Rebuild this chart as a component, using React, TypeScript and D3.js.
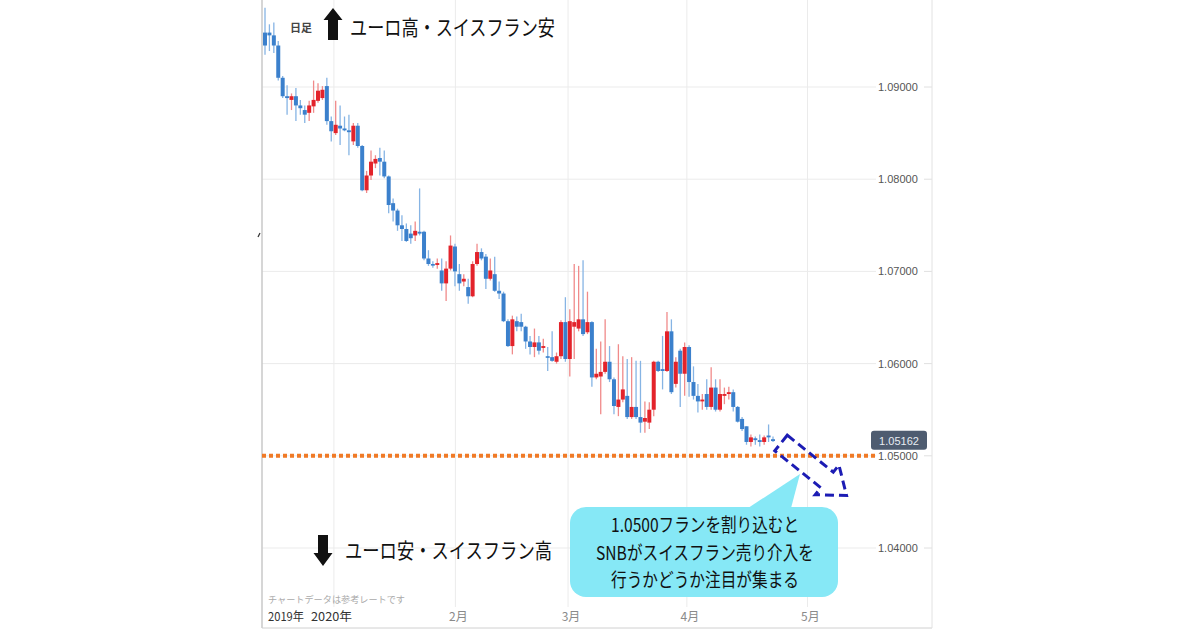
import React from "react";
import * as d3 from "d3";

// EUR/CHF daily candles (Dec 2019 - Apr 2020)
const opens = [
  1.0959, 1.0959, 1.0956, 1.0945, 1.0910, 1.0890, 1.0886, 1.0890, 1.0880, 1.0875,
  1.0872, 1.0879, 1.0885, 1.0888, 1.0901, 1.0863, 1.0850, 1.0858, 1.0855, 1.0853,
  1.0841, 1.0858, 1.0836, 1.0788, 1.0804, 1.0817, 1.0823, 1.0819, 1.0803, 1.0774,
  1.0766, 1.0750, 1.0746, 1.0741, 1.0739, 1.0743, 1.0743, 1.0714, 1.0708, 1.0707,
  1.0701, 1.0687, 1.0703, 1.0727, 1.0697, 1.0689, 1.0683, 1.0673, 1.0708, 1.0721,
  1.0716, 1.0692, 1.0697, 1.0679, 1.0676, 1.0646, 1.0619, 1.0646, 1.0645, 1.0640,
  1.0624, 1.0618, 1.0623, 1.0617, 1.0608, 1.0607, 1.0602, 1.0608, 1.0645, 1.0605,
  1.0640, 1.0638, 1.0648, 1.0634, 1.0645, 1.0585, 1.0586, 1.0591, 1.0602, 1.0583,
  1.0553, 1.0561, 1.0565, 1.0542, 1.0553, 1.0542, 1.0537, 1.0536, 1.0550, 1.0602,
  1.0594, 1.0592, 1.0635, 1.0578, 1.0614, 1.0589, 1.0618, 1.0580, 1.0565, 1.0559,
  1.0567, 1.0553, 1.0574, 1.0550, 1.0565, 1.0567, 1.0569, 1.0553, 1.0540, 1.0532,
  1.0515, 1.0519, 1.0517, 1.0515, 1.0522, 1.0518,
];
const highs = [
  1.0986, 1.0968, 1.0970, 1.0950, 1.0912, 1.0902, 1.0893, 1.0899, 1.0886, 1.0880,
  1.0885, 1.0907, 1.0904, 1.0901, 1.0910, 1.0868, 1.0885, 1.0880, 1.0868, 1.0870,
  1.0861, 1.0861, 1.0837, 1.0809, 1.0831, 1.0826, 1.0834, 1.0831, 1.0804, 1.0779,
  1.0768, 1.0761, 1.0752, 1.0750, 1.0754, 1.0790, 1.0744, 1.0723, 1.0711, 1.0714,
  1.0714, 1.0711, 1.0739, 1.0730, 1.0708, 1.0697, 1.0692, 1.0711, 1.0730, 1.0725,
  1.0719, 1.0714, 1.0716, 1.0689, 1.0678, 1.0648, 1.0652, 1.0651, 1.0654, 1.0641,
  1.0630, 1.0638, 1.0630, 1.0627, 1.0618, 1.0635, 1.0612, 1.0647, 1.0672, 1.0659,
  1.0708, 1.0706, 1.0712, 1.0678, 1.0646, 1.0616, 1.0624, 1.0648, 1.0619, 1.0585,
  1.0621, 1.0608, 1.0605, 1.0607, 1.0603, 1.0603, 1.0559, 1.0558, 1.0603, 1.0603,
  1.0630, 1.0656, 1.0648, 1.0607, 1.0616, 1.0623, 1.0620, 1.0597, 1.0578, 1.0567,
  1.0583, 1.0596, 1.0583, 1.0583, 1.0574, 1.0575, 1.0572, 1.0554, 1.0542, 1.0532,
  1.0523, 1.0521, 1.0523, 1.0522, 1.0534, 1.0521,
];
const lows = [
  1.0935, 1.0939, 1.0937, 1.0907, 1.0888, 1.0870, 1.0875, 1.0863, 1.0870, 1.0861,
  1.0863, 1.0872, 1.0883, 1.0886, 1.0859, 1.0841, 1.0848, 1.0837, 1.0852, 1.0826,
  1.0837, 1.0834, 1.0787, 1.0785, 1.0799, 1.0812, 1.0804, 1.0801, 1.0763, 1.0754,
  1.0744, 1.0733, 1.0732, 1.0730, 1.0733, 1.0739, 1.0712, 1.0706, 1.0704, 1.0703,
  1.0679, 1.0668, 1.0701, 1.0684, 1.0679, 1.0684, 1.0665, 1.0672, 1.0706, 1.0712,
  1.0681, 1.0690, 1.0678, 1.0670, 1.0645, 1.0618, 1.0610, 1.0635, 1.0635, 1.0616,
  1.0610, 1.0607, 1.0610, 1.0612, 1.0592, 1.0602, 1.0600, 1.0605, 1.0602, 1.0586,
  1.0605, 1.0635, 1.0630, 1.0632, 1.0575, 1.0583, 1.0545, 1.0589, 1.0580, 1.0545,
  1.0543, 1.0558, 1.0540, 1.0540, 1.0540, 1.0525, 1.0525, 1.0529, 1.0543, 1.0591,
  1.0572, 1.0591, 1.0567, 1.0574, 1.0553, 1.0565, 1.0564, 1.0561, 1.0547, 1.0550,
  1.0550, 1.0550, 1.0548, 1.0548, 1.0556, 1.0561, 1.0548, 1.0536, 1.0527, 1.0512,
  1.0510, 1.0512, 1.0510, 1.0512, 1.0515, 1.0515,
];
const closes = [
  1.0945, 1.0956, 1.0945, 1.0910, 1.0890, 1.0888, 1.0890, 1.0880, 1.0877, 1.0870,
  1.0880, 1.0886, 1.0896, 1.0897, 1.0863, 1.0852, 1.0859, 1.0855, 1.0853, 1.0851,
  1.0858, 1.0836, 1.0788, 1.0804, 1.0819, 1.0822, 1.0819, 1.0803, 1.0772, 1.0766,
  1.0750, 1.0746, 1.0733, 1.0736, 1.0744, 1.0741, 1.0714, 1.0708, 1.0707, 1.0709,
  1.0687, 1.0703, 1.0728, 1.0700, 1.0687, 1.0692, 1.0673, 1.0708, 1.0721, 1.0714,
  1.0692, 1.0701, 1.0679, 1.0676, 1.0646, 1.0619, 1.0648, 1.0640, 1.0640, 1.0624,
  1.0618, 1.0623, 1.0614, 1.0619, 1.0607, 1.0603, 1.0608, 1.0645, 1.0605, 1.0646,
  1.0645, 1.0648, 1.0632, 1.0645, 1.0585, 1.0589, 1.0591, 1.0602, 1.0583, 1.0554,
  1.0561, 1.0572, 1.0542, 1.0553, 1.0542, 1.0536, 1.0541, 1.0550, 1.0602, 1.0592,
  1.0592, 1.0635, 1.0569, 1.0602, 1.0589, 1.0618, 1.0580, 1.0565, 1.0559, 1.0561,
  1.0553, 1.0574, 1.0550, 1.0567, 1.0567, 1.0569, 1.0553, 1.0537, 1.0529, 1.0515,
  1.0520, 1.0517, 1.0515, 1.0520, 1.0520, 1.0516,
];

const priceTicks = [1.04, 1.05, 1.06, 1.07, 1.08, 1.09];
// month boundaries expressed in candle-index units
const monthStarts = [15.6, 43.1, 68.6, 95.5, 122.8];
const monthLabels = ["", "2月", "3月", "4月", "5月"];
const yearLabels = ["2019年", "2020年"];
const lastPrice = 1.05162;
const supportLevel = 1.05;
const calloutLines = [
  "1.0500フランを割り込むと",
  "SNBがスイスフラン売り介入を",
  "行うかどうか注目が集まる",
];
const upText = "ユーロ高・スイスフラン安";
const downText = "ユーロ安・スイスフラン高";
const noteText = "チャートデータは参考レートです";

const JP = "'Noto Sans CJK JP', 'Noto Sans', sans-serif";
const LAT = "'Liberation Sans', Arial, sans-serif";

export default function App() {
  const n = opens.length;
  const x = d3.scaleLinear().domain([0, n - 1]).range([265, 773]);
  const y = d3.scaleLinear().domain([1.04, 1.09]).range([548, 87]);
  const left = 262;
  const bodyW = 4;

  const candles = d3.range(n).map((i) => ({
    o: opens[i],
    h: highs[i],
    l: lows[i],
    c: closes[i],
    up: closes[i] > opens[i],
  }));

  // dashed block arrow
  const arrowPts: [number, number][] = [
    [0, -10], [59, -10], [59, -19], [84, 0], [59, 19], [59, 10], [0, 10],
  ];
  const arrowPath = d3.line()(arrowPts) + "Z";

  const yLast = y(lastPrice);
  const ySup = y(supportLevel);

  return (
    <div style={{ position: "fixed", left: 0, top: 0, width: 1200, height: 630, background: "#fff" }}>
      <svg width={1200} height={630} viewBox="0 0 1200 630">
        <rect x={0} y={0} width={1200} height={630} fill="#fff" />
        {/* vertical grid */}
        {monthStarts.map((m, i) => (
          <line key={"vg" + i} x1={x(m)} x2={x(m)} y1={0} y2={607} stroke="#ebebeb" strokeWidth={1} />
        ))}
        {/* horizontal grid */}
        {priceTicks.map((t) => (
          <g key={"hg" + t}>
            <line x1={left} x2={876} y1={y(t)} y2={y(t)} stroke="#ebebeb" strokeWidth={1} />
            <line x1={924} x2={932} y1={y(t)} y2={y(t)} stroke="#e0e0e0" strokeWidth={1} />
          </g>
        ))}
        {/* borders */}
        <line x1={left} x2={left} y1={0} y2={628} stroke="#c8c8c8" strokeWidth={1.5} />
        <line x1={left} x2={932} y1={628} y2={628} stroke="#d0d0d0" strokeWidth={1} />
        <line x1={932} x2={932} y1={0} y2={628} stroke="#e2e2e2" strokeWidth={1} />
        <path d="M258,237 L260,233" stroke="#333" strokeWidth={1.2} />

        {/* wicks */}
        {candles.map((d, i) => (
          <line key={"w" + i} x1={x(i)} x2={x(i)} y1={y(d.h)} y2={y(d.l)}
            stroke={d.up ? "#f08a8a" : "#86b4e4"} strokeWidth={1.3} />
        ))}
        {/* bodies */}
        {candles.map((d, i) => {
          const y0 = Math.min(y(d.o), y(d.c));
          const hgt = Math.max(1.6, Math.abs(y(d.o) - y(d.c)));
          return (
            <rect key={"b" + i} x={x(i) - bodyW / 2} y={y0} width={bodyW} height={hgt}
              fill={d.up ? "#e3232b" : "#3b80cc"} />
          );
        })}

        {/* support dotted line */}
        <line x1={left} x2={877} y1={ySup} y2={ySup} stroke="#f07a26" strokeWidth={4} strokeDasharray="4 3" />

        {/* y axis labels */}
        {priceTicks.map((t) => (
          <text key={"yl" + t} x={878} y={y(t) + 4} fontFamily={LAT} fontSize={11} fill="#555">
            {t.toFixed(5)}
          </text>
        ))}
        {/* last price tag */}
        <rect x={871} y={yLast - 10} width={56} height={19} rx={3} fill="#4e5c70" />
        <text x={899} y={yLast + 4} textAnchor="middle" fontFamily={LAT} fontSize={11} fill="#e8ecf2">
          {lastPrice.toFixed(5)}
        </text>

        {/* dashed arrow */}
        <path d={arrowPath} transform="translate(781,443) rotate(38.7)" fill="none"
          stroke="#1c1cb4" strokeWidth={3} strokeDasharray="9 5" strokeLinejoin="miter" />

        {/* callout */}
        <path d="M742,512 L800,474 L790,512 Z" fill="#86e8f6" />
        <rect x={570} y={507} width={268} height={90} rx={16} fill="#86e8f6" />
        {calloutLines.map((s, i) => (
          <text key={"c" + i} x={705} y={532 + i * 27.5} textAnchor="middle" fontFamily={JP}
            fontSize={19} fill="#111" textLength={i === 1 ? 218 : 188} lengthAdjust="spacingAndGlyphs">
            {s}
          </text>
        ))}

        {/* top annotation */}
        <text x={290} y={32} fontFamily={JP} fontSize={11} fontWeight={700} fill="#444"
          textLength={22} lengthAdjust="spacingAndGlyphs">日足</text>
        <path d="M323.5,20 L333,8 L342.5,20 L338,20 L338,40 L328,40 L328,20 Z" fill="#111" />
        <text x={350} y={35} fontFamily={JP} fontSize={21} fill="#111"
          textLength={205} lengthAdjust="spacingAndGlyphs">{upText}</text>

        {/* bottom annotation */}
        <path d="M318,535 L328,535 L328,553 L332.5,553 L323,566 L313.5,553 L318,553 Z" fill="#111" />
        <text x={345} y={558} fontFamily={JP} fontSize={21} fill="#111"
          textLength={207} lengthAdjust="spacingAndGlyphs">{downText}</text>

        {/* note */}
        <text x={268} y={603} fontFamily={JP} fontSize={9} fill="#aaa"
          textLength={137} lengthAdjust="spacingAndGlyphs">{noteText}</text>

        {/* x labels */}
        <text x={268} y={621} fontFamily={JP} fontSize={12} fill="#333"
          textLength={36} lengthAdjust="spacingAndGlyphs">{yearLabels[0]}</text>
        <text x={311} y={621} fontFamily={JP} fontSize={12} fill="#333"
          textLength={41} lengthAdjust="spacingAndGlyphs">{yearLabels[1]}</text>
        {monthStarts.map((m, i) =>
          monthLabels[i] ? (
            <text key={"ml" + i} x={x(m) + 3} y={621} textAnchor="middle" fontFamily={JP}
              fontSize={12} fill="#8a8a8a">{monthLabels[i]}</text>
          ) : null
        )}
      </svg>
    </div>
  );
}
